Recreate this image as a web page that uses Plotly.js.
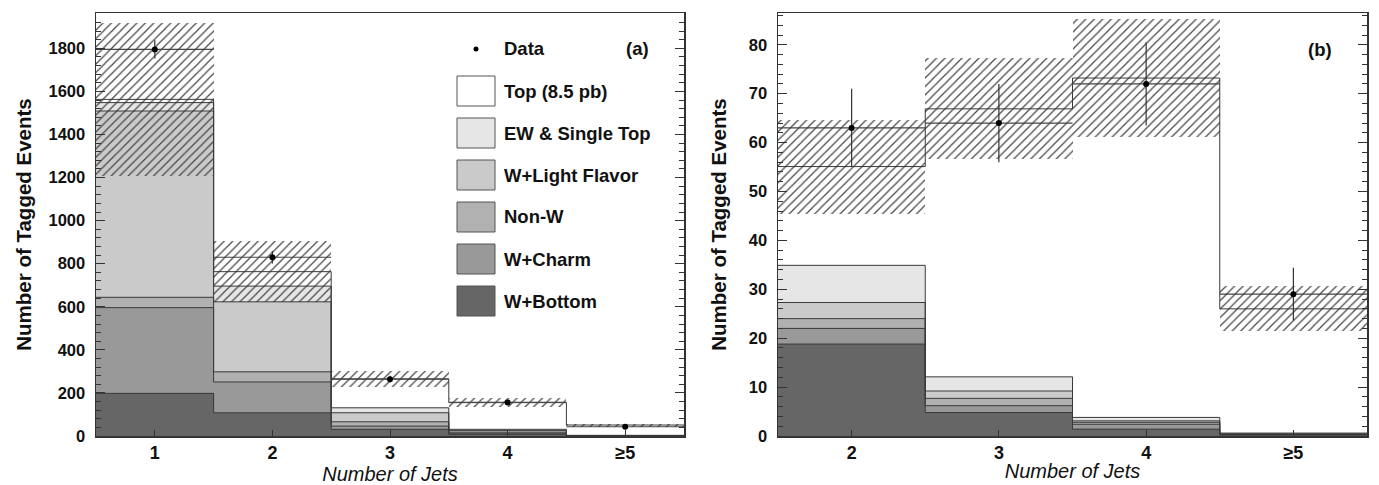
<!DOCTYPE html>
<html>
<head>
<meta charset="utf-8">
<script src="https://cdn.plot.ly/plotly-3.0.1.min.js"></script>
<style>html,body{margin:0;padding:0;background:#fff;}#chart{width:1379px;height:485px;}</style>
</head>
<body>
<div id="chart"></div>
<script>
// ---------- data: panel (a) ----------
const binsA = [1, 2, 3, 4, 5];
const labelsA = ['1', '2', '3', '4', '≥5'];
const wBottomA = [198, 108, 31, 8, 0.6];
const wCharmA = [398, 143, 15, 5, 0.5];
const nonWA = [48, 47, 20, 5, 0.5];
const wLightA = [865, 325, 42, 8, 0.8];
const ewA = [39, 73, 23, 5, 0.6];
const topA = [15, 67, 134, 124, 48];
const systA = [354, 142, 37, 20, 7];
const dataA = [1795, 830, 264, 156, 43];
const dataErrA = [42, 29, 16, 12.5, 6.6];

// ---------- data: panel (b) ----------
const binsB = [2, 3, 4, 5];
const labelsB = ['2', '3', '4', '≥5'];
const wBottomB = [18.8, 4.8, 1.4, 0.2];
const wCharmB = [3.2, 1.4, 1.0, 0.1];
const nonWB = [2.0, 1.5, 0.4, 0.05];
const wLightB = [3.3, 1.5, 0.3, 0.1];
const ewB = [7.6, 2.9, 0.7, 0.15];
const topB = [20.2, 54.8, 69.4, 25.4];
const systB = [9.6, 10.3, 12.0, 4.6];
const dataB = [63, 64, 72, 29];
const dataErrB = [8, 8, 8.5, 5.4];

const compNames = ['W+Bottom', 'W+Charm', 'Non-W', 'W+Light Flavor', 'EW & Single Top', 'Top (8.5 pb)'];
const compColors = ['#666666', '#999999', '#b1b1b1', '#cacaca', '#e6e6e6', '#ffffff'];

const W = 1379, H = 485;
const px = v => v / W, py = v => 1 - v / H;

function panel(bins, comps, syst, data, dataErr, xa, ya) {
  const fills = [], lines = [];
  const base = bins.map(() => 0);
  const edges = bins.map(b => b - 0.5).concat([bins[bins.length - 1] + 0.5]);
  comps.forEach((vals, i) => {
    fills.push({
      type: 'bar', x: bins, y: vals, base: base.slice(), width: 1,
      xaxis: xa, yaxis: ya, name: compNames[i], showlegend: false,
      marker: {color: compColors[i], line: {width: 0}},
      hoverinfo: 'skip'
    });
    vals.forEach((v, j) => base[j] += v);
    const cum = base.slice();
    lines.push({
      type: 'scatter', mode: 'lines', x: edges, y: cum.concat([cum[cum.length - 1]]),
      xaxis: xa, yaxis: ya, showlegend: false, hoverinfo: 'skip',
      line: {shape: 'hv', color: '#3a3a3a', width: 1}
    });
  });
  const band = {
    type: 'bar', x: bins, y: syst.map(s => 2 * s), base: base.map((t, j) => t - syst[j]), width: 1,
    xaxis: xa, yaxis: ya, showlegend: false, name: 'uncertainty',
    marker: {color: 'rgba(0,0,0,0)', line: {width: 0},
      pattern: {shape: '/', fgcolor: '#454545', bgcolor: 'rgba(0,0,0,0)', size: 6, solidity: 0.2}},
    hoverinfo: 'skip'
  };
  const pts = {
    type: 'scatter', mode: 'markers', x: bins, y: data, xaxis: xa, yaxis: ya,
    name: 'Data', showlegend: false,
    marker: {color: '#000', size: 6},
    error_x: {type: 'constant', value: 0.5, width: 0, thickness: 1.2, color: '#444'},
    error_y: {type: 'data', array: dataErr, width: 0, thickness: 1.2, color: '#333'}
  };
  return [...fills, ...lines, band, pts];
}

const traces = [
  ...panel(binsA, [wBottomA, wCharmA, nonWA, wLightA, ewA, topA], systA, dataA, dataErrA, 'x', 'y'),
  ...panel(binsB, [wBottomB, wCharmB, nonWB, wLightB, ewB, topB], systB, dataB, dataErrB, 'x2', 'y2')
];

const FAM = 'Liberation Sans, Arial, sans-serif';
const tickFont = {family: FAM, size: 16.5, color: '#111', weight: 'bold'};
const xTickFont = {family: FAM, size: 18, color: '#111', weight: 'bold'};
const yTitleFont = {family: FAM, size: 20.5, color: '#111', weight: 'bold'};
const xTitleFont = {family: FAM, size: 20, color: '#111', style: 'italic'};

function xAxis(dom, range, vals, labels) {
  return {
    domain: dom, range: range, tickvals: vals, ticktext: labels,
    ticks: 'inside', ticklen: 6, tickcolor: '#333', tickwidth: 1,
    showline: true, linecolor: '#333', linewidth: 1.5, mirror: true,
    showgrid: false, zeroline: false, tickfont: xTickFont,
    title: {text: 'Number of Jets', font: xTitleFont, standoff: 2}
  };
}
function yAxis(dom, range, dtick, mdtick, anchor, standoff) {
  return {
    domain: dom, range: range, dtick: dtick, anchor: anchor,
    ticks: 'inside', ticklen: 9, tickcolor: '#333', tickwidth: 1,
    minor: {dtick: mdtick, ticks: 'inside', ticklen: 5, tickcolor: '#333'},
    showline: true, linecolor: '#333', linewidth: 1.5, mirror: 'ticks',
    showgrid: false, zeroline: false, tickfont: tickFont, ticklabelstandoff: 6,
    title: {text: 'Number of Tagged Events', font: yTitleFont, standoff: standoff}
  };
}

const yDom = [49 / H, 472 / H];
const layout = {
  width: W, height: H, margin: {l: 0, r: 0, t: 0, b: 0},
  paper_bgcolor: '#fff', plot_bgcolor: '#fff',
  barmode: 'overlay', bargap: 0, showlegend: false,
  xaxis: xAxis([px(96), px(684)], [0.5, 5.5], binsA, labelsA),
  yaxis: yAxis(yDom, [0, 1964], 200, 40, 'x', 11),
  xaxis2: Object.assign(xAxis([px(778), px(1367)], [1.5, 5.5], binsB, labelsB), {anchor: 'y2'}),
  yaxis2: yAxis(yDom, [0, 86.5], 10, 2, 'x2', 16),
  shapes: [], annotations: []
};

// legend inside panel (a)
const legFont = {family: FAM, size: 18.5, color: '#111', weight: 'bold'};
layout.shapes.push({type: 'circle', xref: 'paper', yref: 'paper',
  x0: px(473.5), x1: px(478.5), y0: py(51.5), y1: py(46.5), fillcolor: '#000', line: {width: 0}});
layout.annotations.push({xref: 'paper', yref: 'paper', x: px(502), y: py(49), text: 'Data',
  showarrow: false, xanchor: 'left', yanchor: 'middle', font: legFont});
layout.annotations.push({xref: 'paper', yref: 'paper', x: px(637), y: py(49), text: '(a)',
  showarrow: false, xanchor: 'center', yanchor: 'middle', font: legFont});
layout.annotations.push({xref: 'paper', yref: 'paper', x: px(1320), y: py(50), text: '(b)',
  showarrow: false, xanchor: 'center', yanchor: 'middle', font: legFont});
for (let k = 0; k < 6; k++) {
  const i = 5 - k;
  const top = 76 + 42 * k;
  layout.shapes.push({type: 'rect', xref: 'paper', yref: 'paper',
    x0: px(457), x1: px(495), y0: py(top + 30), y1: py(top),
    fillcolor: compColors[i], line: {color: '#555', width: 1}});
  layout.annotations.push({xref: 'paper', yref: 'paper', x: px(502), y: py(top + 15), text: compNames[i],
    showarrow: false, xanchor: 'left', yanchor: 'middle', font: legFont});
}

Plotly.newPlot('chart', traces, layout, {displayModeBar: false, staticPlot: true});
</script>
</body>
</html>
